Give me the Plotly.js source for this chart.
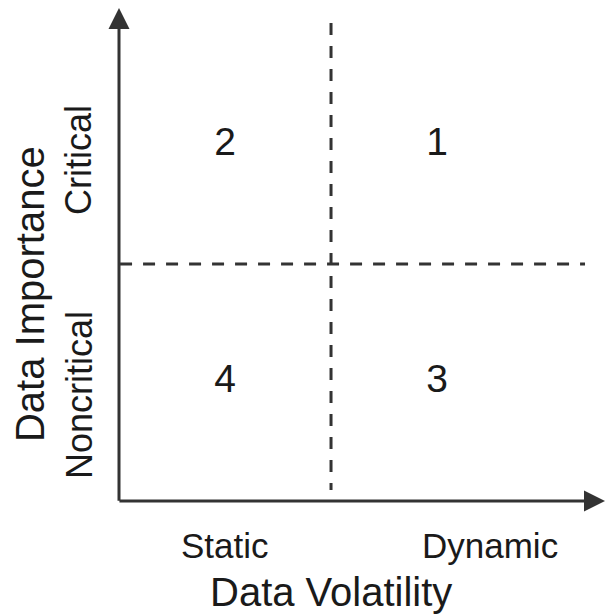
<!DOCTYPE html>
<html>
<head>
<meta charset="utf-8">
<script src="https://cdn.plot.ly/plotly-3.0.1.min.js"></script>
<style>html,body{margin:0;padding:0;background:#fff;}#chart{width:606px;height:615px;}</style>
</head>
<body>
<div id="chart"></div>
<script>
// ---- data ----
const xCategories = ["Static", "Dynamic"];
const yCategories = ["Noncritical", "Critical"];
// rows follow yCategories, columns follow xCategories
const quadrantNumbers = [[4, 3], [2, 1]];
const xTitle = "Data Volatility";
const yTitle = "Data Importance";

// ---- build ----
const FONT = "Liberation Sans, Arial, Helvetica, sans-serif";
const INK = "#1a1a1a";
const LINE = "#333333";

const qx = [], qy = [], qt = [];
quadrantNumbers.forEach((row, r) => row.forEach((n, c) => {
  qx.push(c + 0.5); qy.push(r + 0.5); qt.push(String(n));
}));

const traces = [{
  type: "scatter", mode: "text",
  x: qx, y: qy, text: qt,
  textfont: {family: FONT, size: 39, color: INK},
  hoverinfo: "skip", showlegend: false, cliponaxis: false
}];

const nx = xCategories.length, ny = yCategories.length;
const xMax = 2.297, yMax = 2.114;
// convert axis units to paper fractions (annotations outside the axis range need paper refs)
const PX = v => v / xMax, PY = v => v / yMax;

const annotations = [];
// axis arrows
annotations.push({x: PX(0), y: PY(2.08), ax: PX(0), ay: PY(-0.005), xref: "paper", yref: "paper", axref: "paper", ayref: "paper",
  showarrow: true, arrowhead: 2, arrowsize: 1.4, arrowwidth: 3, arrowcolor: LINE, text: ""});
annotations.push({x: PX(xMax + 0.005), y: PY(0), ax: PX(-0.005), ay: PY(0), xref: "paper", yref: "paper", axref: "paper", ayref: "paper",
  showarrow: true, arrowhead: 2, arrowsize: 1.4, arrowwidth: 3, arrowcolor: LINE, text: ""});

// x category labels
const xLabelPos = [0.5, 1.75];
xCategories.forEach((c, i) => annotations.push({
  x: PX(xLabelPos[i]), y: PY(-0.186), xref: "paper", yref: "paper", text: c, showarrow: false,
  xanchor: "center", yanchor: "middle", font: {family: FONT, size: 35, color: INK}
}));
// y category labels
const yLabelPos = [0.447, 1.439];
yCategories.forEach((c, i) => annotations.push({
  x: PX(-0.189), y: PY(yLabelPos[i]), xref: "paper", yref: "paper", text: c, showarrow: false, textangle: -90,
  xanchor: "center", yanchor: "middle", font: {family: FONT, size: 36, color: INK}
}));
// axis titles
annotations.push({x: PX(1.0), y: PY(-0.384), xref: "paper", yref: "paper", text: xTitle, showarrow: false,
  xanchor: "center", yanchor: "middle", font: {family: FONT, size: 40, color: INK}});
annotations.push({x: PX(-0.42), y: PY(0.873), xref: "paper", yref: "paper", text: yTitle, showarrow: false, textangle: -90,
  xanchor: "center", yanchor: "middle", font: {family: FONT, size: 40, color: INK}});

// quadrant dividers
const shapes = [
  {type: "line", xref: "x", yref: "y", x0: nx / 2, x1: nx / 2, y0: 2.017, y1: 0.046,
   line: {color: LINE, width: 3, dash: "12px,11px"}},
  {type: "line", xref: "x", yref: "y", x0: 0.005, x1: 2.198, y0: ny / 2, y1: ny / 2,
   line: {color: LINE, width: 3, dash: "12px,11px"}}
];

const layout = {
  width: 606, height: 615,
  margin: {l: 119, r: 0, t: 0, b: 114, pad: 0},
  paper_bgcolor: "#fff", plot_bgcolor: "#fff",
  showlegend: false,
  xaxis: {range: [0, xMax], showgrid: false, zeroline: false, showline: false, showticklabels: false, ticks: "", fixedrange: true},
  yaxis: {range: [0, yMax], showgrid: false, zeroline: false, showline: false, showticklabels: false, ticks: "", fixedrange: true},
  annotations: annotations,
  shapes: shapes
};

Plotly.newPlot("chart", traces, layout, {displayModeBar: false, staticPlot: true});
</script>
</body>
</html>
